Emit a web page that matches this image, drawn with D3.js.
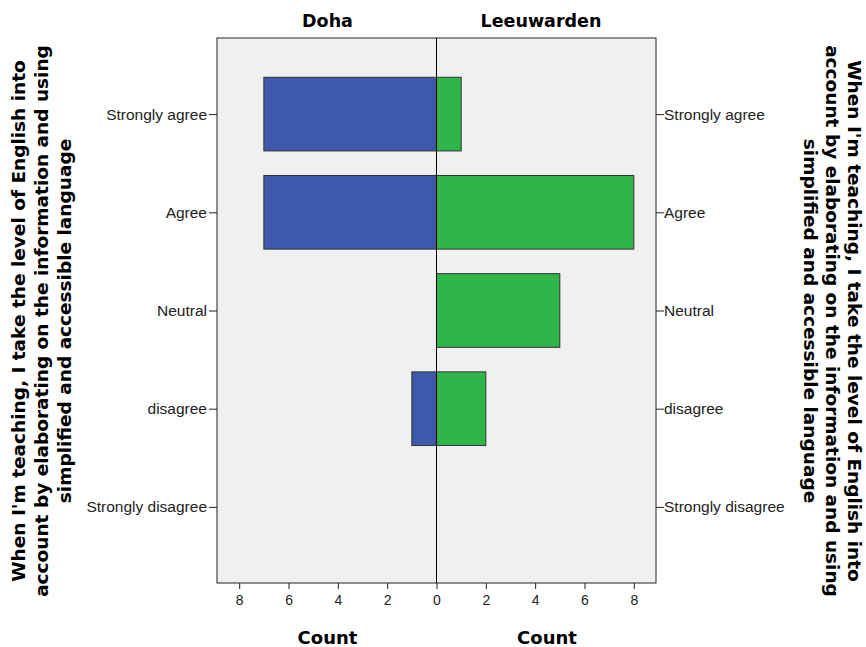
<!DOCTYPE html>
<html><head><meta charset="utf-8">
<script src="https://cdn.jsdelivr.net/npm/d3@7"></script>
<style>body{margin:0;background:#fff;} .t{font-family:"DejaVu Sans",sans-serif;} .a text{font-family:"Liberation Sans",Arial,sans-serif;}</style>
</head><body>
<svg id="c" width="866" height="647"></svg>
<script>
const categories = ["Strongly agree","Agree","Neutral","disagree","Strongly disagree"];
const dohaValues = [7,7,0,1,0];
const leeuwardenValues = [1,8,5,2,0];
const panels = ["Doha","Leeuwarden"];
const tickValues = [0,2,4,6,8];
const axisTitle = ["When I'm teaching, I take the level of English into","account by elaborating on the information and using","simplified and accessible language"];

const svg = d3.select("#c");
const L = 217, R = 656, T = 38, B = 583, C = 436.5;
const maxX = 8.9;
const xL = d3.scaleLinear().domain([0,maxX]).range([C, L]);
const xR = d3.scaleLinear().domain([0,maxX]).range([C, R]);
const y = d3.scaleBand().domain(categories).range([T,B]).paddingInner(0.25).paddingOuter(0.4);

svg.append("rect").attr("x",L).attr("y",T).attr("width",R-L).attr("height",B-T).attr("fill","#f0f0f0");

const g = svg.append("g");
g.selectAll(".bl").data(categories.map((c,i)=>({c,v:dohaValues[i]})).filter(d=>d.v>0)).join("rect")
 .attr("x",d=>xL(d.v)).attr("y",d=>y(d.c)).attr("width",d=>xL(0)-xL(d.v)).attr("height",y.bandwidth())
 .attr("fill","#3e58ac").attr("stroke","#333").attr("stroke-width",1);
g.selectAll(".br").data(categories.map((c,i)=>({c,v:leeuwardenValues[i]})).filter(d=>d.v>0)).join("rect")
 .attr("x",xR(0)).attr("y",d=>y(d.c)).attr("width",d=>xR(d.v)-xR(0)).attr("height",y.bandwidth())
 .attr("fill","#2fb64a").attr("stroke","#333").attr("stroke-width",1);

svg.append("line").attr("x1",C).attr("x2",C).attr("y1",T).attr("y2",B).attr("stroke","#000").attr("stroke-width",1);
svg.append("rect").attr("x",L).attr("y",T).attr("width",R-L).attr("height",B-T).attr("fill","none").attr("stroke","#222").attr("stroke-width",1);

const yp = d3.scalePoint().domain(categories).range([y(categories[0])+y.bandwidth()/2, y(categories[4])+y.bandwidth()/2]);
const la = svg.append("g").attr("class","a").attr("transform",`translate(${L},0)`).call(d3.axisLeft(yp).tickSize(8).tickPadding(2));
const ra = svg.append("g").attr("class","a").attr("transform",`translate(${R},0)`).call(d3.axisRight(yp).tickSize(8).tickPadding(0));
[la,ra].forEach(a=>{a.select(".domain").remove();a.selectAll("text").style("font-size","15.5px").attr("fill","#222");a.selectAll("line").attr("stroke","#222");});

const bl = svg.append("g").attr("class","a").attr("transform",`translate(0,${B})`).call(d3.axisBottom(xL).tickValues(tickValues).tickSize(6).tickPadding(6).tickFormat(d3.format("d")));
const br = svg.append("g").attr("class","a").attr("transform",`translate(0,${B})`).call(d3.axisBottom(xR).tickValues(tickValues.slice(1)).tickSize(6).tickPadding(6).tickFormat(d3.format("d")));
[bl,br].forEach(a=>{a.select(".domain").remove();a.selectAll("text").style("font-size","14px").attr("fill","#222");a.selectAll("line").attr("stroke","#222");});

const titleX = [327.5, 541];
const countX = [327.5, 547];
panels.forEach((p,i)=>{
  svg.append("text").attr("class","t").attr("x",titleX[i]).attr("y",27).attr("text-anchor","middle").attr("font-size",17.5).attr("font-weight","bold").text(p);
  svg.append("text").attr("class","t").attr("x",countX[i]).attr("y",644).attr("text-anchor","middle").attr("font-size",18).attr("font-weight","bold").text("Count");
});

const midY = 321;
const lt = svg.append("text").attr("class","t").attr("transform",`translate(0,${midY}) rotate(-90)`).attr("text-anchor","middle").attr("font-size",18.5).attr("font-weight","bold");
axisTitle.forEach((t,i)=>lt.append("tspan").attr("x",0).attr("y",25+i*23).text(t));
const rt = svg.append("text").attr("class","t").attr("transform",`translate(866,${midY}) rotate(90)`).attr("text-anchor","middle").attr("font-size",18.5).attr("font-weight","bold");
axisTitle.forEach((t,i)=>rt.append("tspan").attr("x",0).attr("y",18+i*22).text(t));
</script>
</body></html>
